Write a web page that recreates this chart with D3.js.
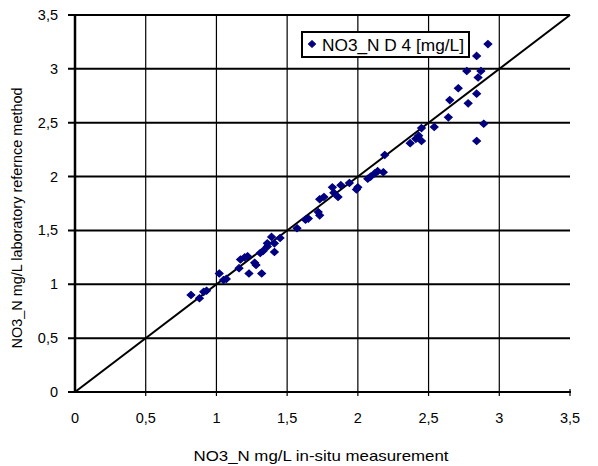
<!DOCTYPE html>
<html>
<head>
<meta charset="utf-8">
<script src="https://cdn.jsdelivr.net/npm/d3@7"></script>
<style>
  body { margin: 0; background: #fff; }
  text { font-family: "Liberation Sans", Arial, sans-serif; fill: #000; }
</style>
</head>
<body>
<div id="chart"></div>
<script>
// in-situ (x) vs lab (y), mg/L
var insitu = [0.82, 0.88, 0.91, 0.93, 1.02, 1.05, 1.07, 1.16, 1.17, 1.20, 1.22, 1.23, 1.27, 1.28, 1.32,
  1.31, 1.33, 1.36, 1.36, 1.39, 1.41, 1.41, 1.45, 1.57, 1.63, 1.65, 1.72, 1.73, 1.73, 1.76,
  1.83, 1.82, 1.86, 1.88, 1.94, 1.99, 2.00, 2.07, 2.09, 2.12, 2.14, 2.18, 2.19, 2.37, 2.41,
  2.43, 2.45, 2.45, 2.54, 2.64, 2.65, 2.71, 2.77, 2.78, 2.84, 2.85, 2.87, 2.84, 2.92, 2.89, 2.84]
var lab = [0.90, 0.87, 0.93, 0.94, 1.10, 1.04, 1.05, 1.15, 1.23, 1.25, 1.26, 1.10, 1.20, 1.18, 1.10,
  1.29, 1.31, 1.38, 1.35, 1.44, 1.38, 1.30, 1.43, 1.52, 1.60, 1.61, 1.67, 1.64, 1.79, 1.81,
  1.85, 1.90, 1.81, 1.92, 1.94, 1.88, 1.90, 1.98, 2.00, 2.03, 2.05, 2.04, 2.20, 2.31, 2.35,
  2.38, 2.33, 2.45, 2.46, 2.55, 2.71, 2.82, 2.98, 2.68, 2.77, 2.92, 2.98, 3.12, 3.23, 2.49, 2.33]
var ticks = [0, 0.5, 1, 1.5, 2, 2.5, 3, 3.5]
var lineEnds = [0, 3.5]
var seriesName = 'NO3_N D 4 [mg/L]'
var xTitle = 'NO3_N mg/L in-situ measurement'
var yTitle = 'NO3_N mg/L laboratory refernce method'

var W = 598, H = 466
var svg = d3.select('#chart').append('svg').attr('width', W).attr('height', H)

var x = d3.scaleLinear().domain([0, 3.5]).range([75, 570])
var y = d3.scaleLinear().domain([0, 3.5]).range([392, 15])
var fmt = function(d){ return String(d).replace('.', ',') }

// gridlines
svg.append('g').selectAll('line').data(ticks.slice(1)).join('line')
  .attr('x1', 68).attr('x2', x(3.5))
  .attr('y1', d => y(d)).attr('y2', d => y(d))
  .attr('stroke', '#000').attr('stroke-width', 2)
svg.append('g').selectAll('line').data(ticks.slice(1, -1)).join('line')
  .attr('x1', d => x(d)).attr('x2', d => x(d))
  .attr('y1', y(3.5)).attr('y2', y(0) + 4)
  .attr('stroke', '#000').attr('stroke-width', 1.2)

// axes
svg.append('line').attr('x1', x(0)).attr('x2', x(0)).attr('y1', y(3.5) - 1).attr('y2', y(0))
  .attr('stroke', '#000').attr('stroke-width', 2.5)
svg.append('line').attr('x1', 68).attr('x2', x(3.5) + 1).attr('y1', y(0)).attr('y2', y(0))
  .attr('stroke', '#000').attr('stroke-width', 2)
svg.append('line').attr('x1', x(3.5)).attr('x2', x(3.5)).attr('y1', y(0) - 3).attr('y2', y(0) + 4)
  .attr('stroke', '#000').attr('stroke-width', 1.2)

svg.append('g').selectAll('text').data(ticks).join('text')
  .attr('x', 58).attr('y', d => y(d) + 5)
  .attr('text-anchor', 'end').attr('font-size', 14.5)
  .text(fmt)
svg.append('g').selectAll('text').data(ticks).join('text')
  .attr('x', d => x(d)).attr('y', 423)
  .attr('text-anchor', 'middle').attr('font-size', 14.5)
  .text(fmt)

// 1:1 line
svg.append('line')
  .attr('x1', x(lineEnds[0])).attr('y1', y(lineEnds[0]))
  .attr('x2', x(lineEnds[1])).attr('y2', y(lineEnds[1]))
  .attr('stroke', '#000').attr('stroke-width', 2)

// points
var diamond = 'M0,-3.5L3.8,0L0,3.5L-3.8,0Z'
svg.append('g').selectAll('path').data(insitu).join('path')
  .attr('d', diamond)
  .attr('transform', (d, i) => 'translate(' + x(d) + ',' + y(lab[i]) + ')')
  .attr('fill', '#000080').attr('stroke', '#000080').attr('stroke-width', 1.2)

// legend
var lg = svg.append('g')
lg.append('rect').attr('x', 302).attr('y', 32).attr('width', 167).attr('height', 25)
  .attr('fill', '#fff').attr('stroke', '#000').attr('stroke-width', 2)
lg.append('path').attr('d', diamond).attr('transform', 'translate(312,44)')
  .attr('fill', '#000080').attr('stroke', '#000080')
lg.append('text').attr('x', 322).attr('y', 51).attr('font-size', 16)
  .attr('textLength', 142).attr('lengthAdjust', 'spacingAndGlyphs').text(seriesName)

// titles
svg.append('text').attr('x', 321).attr('y', 461).attr('text-anchor', 'middle')
  .attr('font-size', 15)
  .attr('textLength', 255).attr('lengthAdjust', 'spacingAndGlyphs')
  .text(xTitle)
svg.append('text').attr('transform', 'translate(22,218) rotate(-90)')
  .attr('text-anchor', 'middle').attr('font-size', 14)
  .attr('textLength', 261).attr('lengthAdjust', 'spacingAndGlyphs')
  .text(yTitle)
</script>
</body>
</html>
